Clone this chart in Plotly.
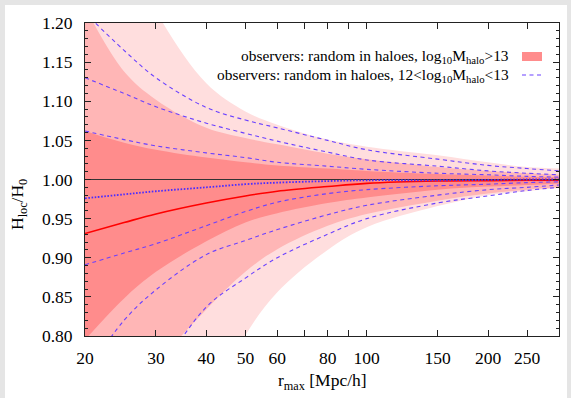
import plotly.graph_objects as go

# ---------------- data ----------------
r_max = [20, 25, 30, 40, 50, 60, 80, 100, 150, 200, 250, 300]

# red: observers in haloes with log10 M > 13 (mean and three confidence bands)
red_mean = [0.931, 0.945, 0.956, 0.970, 0.979, 0.985, 0.991, 0.995, 0.998, 0.9985, 0.999, 0.999]
red_up1 = [1.062, 1.047, 1.038, 1.028, 1.022, 1.018, 1.014, 1.011, 1.007, 1.005, 1.0035, 1.003]
red_lo1 = [0.795, 0.848, 0.882, 0.921, 0.945, 0.957, 0.970, 0.977, 0.987, 0.991, 0.993, 0.995]
red_up2 = [1.220, 1.138, 1.102, 1.066, 1.053, 1.045, 1.033, 1.026, 1.016, 1.011, 1.008, 1.006]
red_lo2 = [0.620, 0.700, 0.762, 0.834, 0.882, 0.911, 0.941, 0.956, 0.973, 0.982, 0.987, 0.990]
red_up3 = [1.420, 1.300, 1.215, 1.123, 1.087, 1.070, 1.051, 1.042, 1.031, 1.022, 1.016, 1.014]
red_lo3 = [0.380, 0.480, 0.570, 0.700, 0.801, 0.856, 0.910, 0.939, 0.966, 0.980, 0.985, 0.989]

# blue: observers in haloes with 12 < log10 M < 13
blue_mean = [0.976, 0.981, 0.985, 0.990, 0.994, 0.996, 0.998, 0.999, 0.999, 0.9995, 1.0, 1.0]
blue_up1 = [1.062, 1.051, 1.043, 1.034, 1.028, 1.022, 1.017, 1.013, 1.008, 1.006, 1.004, 1.003]
blue_lo1 = [0.891, 0.906, 0.918, 0.941, 0.959, 0.971, 0.982, 0.987, 0.992, 0.994, 0.996, 0.997]
blue_up2 = [1.130, 1.110, 1.093, 1.072, 1.059, 1.049, 1.035, 1.025, 1.017, 1.011, 1.008, 1.006]
blue_lo2 = [0.750, 0.820, 0.859, 0.904, 0.922, 0.936, 0.955, 0.967, 0.980, 0.987, 0.990, 0.993]
blue_up3 = [1.213, 1.165, 1.130, 1.092, 1.076, 1.066, 1.050, 1.038, 1.026, 1.018, 1.014, 1.011]
blue_lo3 = [0.600, 0.690, 0.748, 0.837, 0.874, 0.900, 0.930, 0.950, 0.970, 0.979, 0.986, 0.990]

ref_x = [20, 300]
ref_level = [1.0, 1.0]

x_tickvals = [20, 30, 40, 50, 60, 70, 80, 90, 100, 150, 200, 250]
x_ticktext = ["20", "30", "40", "50", "60", "", "80", "", "100", "150", "200", "250"]

legend_red = "observers: random in haloes, log<sub>10</sub>M<sub>halo</sub>&gt;13"
legend_blue = "observers: random in haloes, 12&lt;log<sub>10</sub>M<sub>halo</sub>&lt;13"
x_title = "r<sub>max</sub> [Mpc/h]"
y_title = "H<sub>loc</sub>/H<sub>0</sub>"

# ---------------- styles ----------------
FONT = "Liberation Serif"
C_DARK = "#ff8c8c"
C_MID = "#ffb6b6"
C_LIGHT = "#ffdede"
C_BLUE = "#6a40ff"
C_RED = "#ff0000"

fig = go.Figure()


def band(upper, lower, color):
    fig.add_trace(go.Scatter(x=r_max, y=upper, mode="lines",
                             line=dict(width=0, shape="spline", smoothing=1.0, color=color),
                             showlegend=False, hoverinfo="skip"))
    fig.add_trace(go.Scatter(x=r_max, y=lower, mode="lines", fill="tonexty", fillcolor=color,
                             line=dict(width=0, shape="spline", smoothing=1.0, color=color),
                             showlegend=False, hoverinfo="skip"))


band(red_up3, red_lo3, C_LIGHT)
band(red_up2, red_lo2, C_MID)
band(red_up1, red_lo1, C_DARK)

fig.add_trace(go.Scatter(x=ref_x, y=ref_level, mode="lines",
                         line=dict(color="#333333", width=1), showlegend=False))

for yy in [blue_up3, blue_up2, blue_up1, blue_lo1, blue_lo2, blue_lo3]:
    fig.add_trace(go.Scatter(x=r_max, y=yy, mode="lines",
                             line=dict(color=C_BLUE, width=1.1, dash="4px,3.5px",
                                       shape="spline", smoothing=1.0),
                             showlegend=False))

fig.add_trace(go.Scatter(x=r_max, y=red_mean, mode="lines",
                         line=dict(color=C_RED, width=1.6, shape="spline", smoothing=1.0),
                         showlegend=False))
fig.add_trace(go.Scatter(x=r_max, y=blue_mean, mode="lines",
                         line=dict(color="#4a2cff", width=1.8, dash="1.6px,1.6px",
                                   shape="spline", smoothing=1.0),
                         showlegend=False))

# plot area: x 85..559, y 23..336 in a 571x398 page
L, R, T, B = 85, 12, 23, 62
W, H = 571, 398
pw, ph = W - L - R, H - T - B


def px(x):
    return (x - L) / pw


def py(y):
    return (H - B - y) / ph


axis_common = dict(showline=True, linecolor="#222222", linewidth=1, mirror="allticks",
                   ticks="inside", ticklen=6, tickcolor="#222222", showgrid=False,
                   zeroline=False, tickfont=dict(family=FONT, size=17.5, color="black"))

fig.update_layout(
    width=W, height=H,
    margin=dict(l=L, r=R, t=T, b=B),
    paper_bgcolor="#e5e5e5",
    plot_bgcolor="white",
    showlegend=False,
    xaxis=dict(type="log", range=[1.30103, 2.47712], tickvals=x_tickvals, ticktext=x_ticktext,
               ticklabelstandoff=6, **axis_common),
    yaxis=dict(range=[0.8, 1.2], dtick=0.05, tick0=0.8, tickformat=".2f", ticklabelstandoff=8,
               minor=dict(dtick=0.01, ticks="inside", ticklen=3, tickcolor="#222222", showgrid=False),
               **axis_common),
    shapes=[
        dict(type="rect", xref="paper", yref="paper", x0=px(5), x1=px(567), y0=py(400), y1=py(5),
             fillcolor="white", line=dict(width=0), layer="below"),
        dict(type="rect", xref="paper", yref="paper", x0=px(522), x1=px(542), y0=py(61), y1=py(52),
             fillcolor=C_DARK, line=dict(width=0)),
        dict(type="line", xref="paper", yref="paper", x0=px(522), x1=px(542), y0=py(75), y1=py(75),
             line=dict(color=C_BLUE, width=1.1, dash="4px,3.5px")),
    ],
    annotations=[
        dict(text=legend_red, xref="paper", yref="paper", x=px(511), y=py(56), xanchor="right",
             yanchor="middle", showarrow=False, font=dict(family=FONT, size=15.4, color="black")),
        dict(text=legend_blue, xref="paper", yref="paper", x=px(511), y=py(75), xanchor="right",
             yanchor="middle", showarrow=False, font=dict(family=FONT, size=15.4, color="black")),
        dict(text=x_title, xref="paper", yref="paper", x=px(322), y=py(381), xanchor="center",
             yanchor="middle", showarrow=False, font=dict(family=FONT, size=17.5, color="black")),
        dict(text=y_title, xref="paper", yref="paper", x=px(18), y=py(205), xanchor="center",
             yanchor="middle", textangle=-90, showarrow=False,
             font=dict(family=FONT, size=17.5, color="black")),
    ],
)

fig.write_html("out.html", config={"displayModeBar": False},
               post_script="document.body.style.margin='0px';")
